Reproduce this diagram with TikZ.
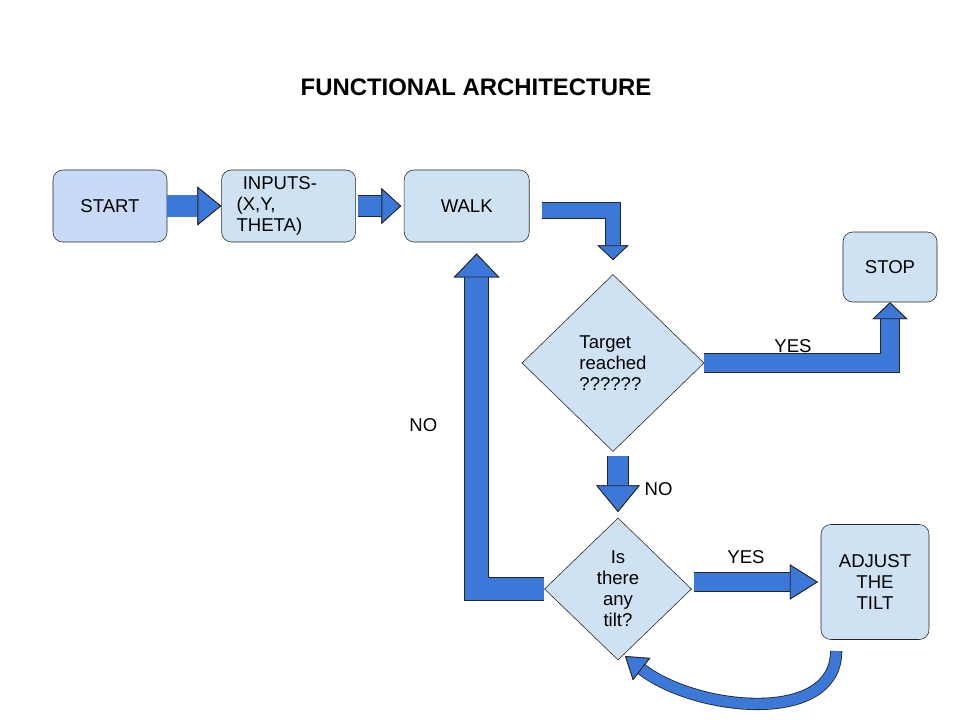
\documentclass[tikz,border=0pt]{standalone}
\usepackage{fontspec}
\setmainfont{Liberation Sans}
\usetikzlibrary{positioning, shapes.geometric, arrows.meta}

\definecolor{nodeblue}{HTML}{CFE2F3}
\definecolor{startblue}{HTML}{C9DAF8}
\definecolor{arrowblue}{HTML}{3C78D8}
\newcommand{\lblfont}{\fontsize{13.2}{14.9}\selectfont}

\begin{document}
\begin{tikzpicture}[x=0.025cm, y=-0.025cm,
  box/.style={draw=black!85, rectangle, rounded corners=7pt, fill=nodeblue, font=\lblfont, align=center, inner sep=0pt},
  decision/.style={draw=black!85, diamond, fill=nodeblue, font=\lblfont, align=center, inner sep=0pt},
  tag/.style={font=\lblfont, inner sep=0pt, outer sep=0pt},
  blockarrow/.style n args={3}{line width=#1, draw=arrowblue, line join=miter,
    -{Triangle[length=#3, width=#2, fill=arrowblue, color=black!85, line width=0.6pt]},
    preaction={draw=black!85, line width=#1+1.2pt}}
]
\useasboundingbox (0,0) rectangle (960,720);
\node[font=\fontsize{17}{20}\selectfont\bfseries] (title) at (476,87) {FUNCTIONAL ARCHITECTURE};

% top row
\node[box, fill=startblue, minimum width=2.85cm, minimum height=1.8cm] (start) at (110,206) {START};
\node[box, right=1.35cm of start, minimum width=3.35cm, minimum height=1.8cm, text width=2.6cm, align=left] (inputs) {~INPUTS-\\(X,Y,\\THETA)};
\node[box, right=1.2cm of inputs, minimum width=3.125cm, minimum height=1.8cm] (walk) {WALK};
\node[box, minimum width=2.35cm, minimum height=1.75cm] (stop) at (890,267) {STOP};

% decisions
\node[decision, minimum width=4.55cm, minimum height=4.425cm, align=left] (target) at (613,363) {Target\\reached\\??????};
\node[decision, minimum width=3.675cm, minimum height=3.55cm] (tilt) at (618,589) {Is\\there\\any\\tilt?};
\node[box, minimum width=2.7cm, minimum height=2.875cm] (adjust) at (875,582) {ADJUST\\THE\\TILT};

% connectors
\draw[blockarrow={15pt}{27.5pt}{17pt}] (start) -- (inputs);
\draw[blockarrow={14pt}{25.5pt}{14pt}, shorten <=1.5pt, shorten >=2pt] (inputs) -- (walk);
\draw[blockarrow={10.6pt}{22pt}{10.5pt}, shorten <=9pt, shorten >=10pt] ([yshift=-3pt]walk.east) -| (target.north);
\draw[blockarrow={12.8pt}{25pt}{12pt}] (target.east) -| (stop.south)
  node[tag, pos=0.25, above=7pt, xshift=-3pt] {YES};
\draw[blockarrow={14pt}{31pt}{19pt}, shorten <=3pt, shorten >=4pt] (target.south -| tilt.north) -- (tilt.north)
  node[tag, midway, right=19pt, yshift=-3pt] {NO};
\draw[blockarrow={13.5pt}{25pt}{20pt}, shorten <=1.5pt, shorten >=2pt] (tilt.east |- adjust.west) -- (adjust.west)
  node[tag, pos=0.42, above=13pt] {YES};
\draw[blockarrow={16.3pt}{32.6pt}{17pt}, shorten >=8pt] (tilt.west) -| ([xshift=7pt]walk.south)
  node[tag, pos=0.736, left=28pt] {NO};
\draw[blockarrow={7.5pt}{20pt}{15pt}] ([xshift=11pt,yshift=-8pt]adjust.south west)
  .. controls +(0,75) and +(70,55) .. ([xshift=5pt,yshift=3pt]tilt.south);
\end{tikzpicture}
\end{document}
